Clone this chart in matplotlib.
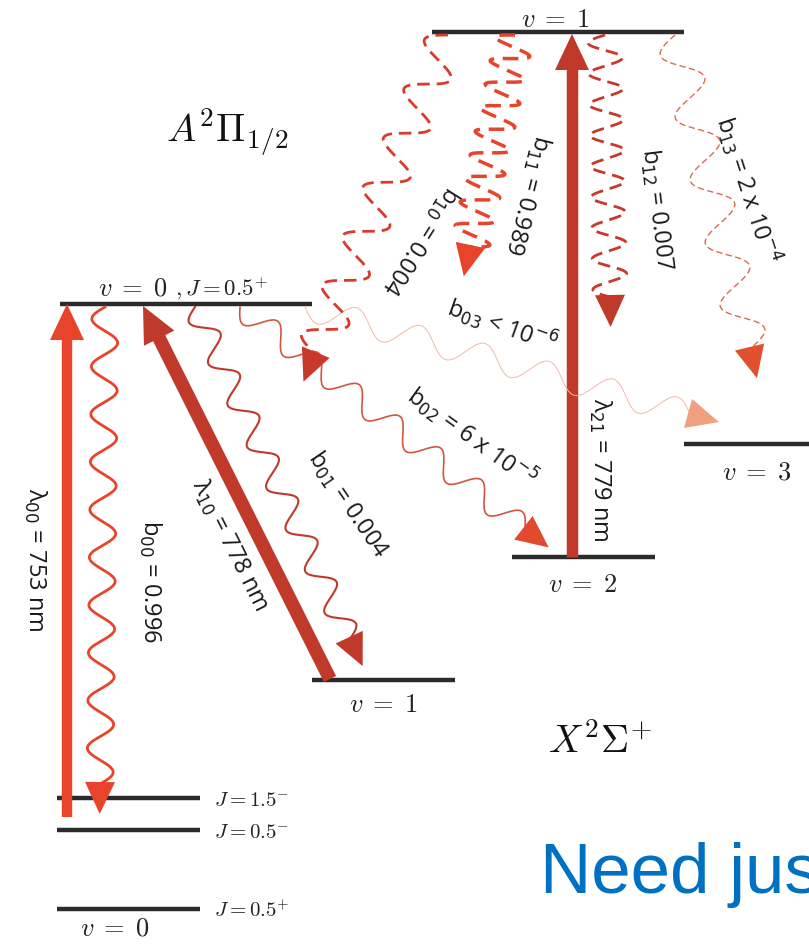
import numpy as np
import matplotlib
matplotlib.use("Agg")
import matplotlib.pyplot as plt
from matplotlib.patches import Polygon

# ---------------- data ----------------
# energy levels (pixel-like diagram coordinates)
level_x0 = [432, 60, 57, 57, 57, 312, 512, 684]
level_x1 = [684, 312, 200, 200, 200, 455, 655, 809]
level_y = [33, 305, 799, 831, 910, 681, 558, 445]

# level labels
level_label_text = [r"$v\;=\;1$", r"$v\;=\;0$", r"$,J=0.5^{+}$", r"$J=1.5^{-}$", r"$J=0.5^{-}$",
                    r"$J=0.5^{+}$", r"$v\;=\;0$", r"$v\;=\;1$", r"$v\;=\;2$", r"$v\;=\;3$"]
level_label_x = [555, 133, 175, 214, 214, 214, 115, 383, 583, 757]
level_label_y = [27, 296, 296, 806, 838, 917, 936, 712, 592, 480]
level_label_size = [19, 19, 16.5, 15, 15, 15, 19, 19, 19, 19]
level_label_ha = ["center", "center", "left", "left", "left", "left", "center",
                  "center", "center", "center"]

# pumping lasers (straight arrows): start -> tip
laser_names = ["λ00", "λ10", "λ21"]
laser_start = [(67, 818), (330, 680), (572, 558)]
laser_tip = [(67, 305), (143, 307), (572, 35)]
laser_width = [10, 13, 11]
laser_color = ["#E8442B", "#C0392B", "#C0392B"]
laser_label = [r"λ$_{00}$ = 753 nm", r"λ$_{10}$ = 778 nm", r"λ$_{21}$ = 779 nm"]
laser_label_xy = [(35, 560), (230, 545), (600, 470)]
laser_label_rot = [-90, -63.4, -90]

# spontaneous decays (wavy arrows)
decay_names = ["b00", "b01", "b02", "b03", "b10", "b11", "b12", "b13"]
decay_start = [(105, 308), (195, 308), (240, 308), (305, 308),
               (448, 36), (515, 36), (605, 36), (675, 36)]
decay_end = [(100, 785), (350, 640), (525, 530), (690, 415),
             (315, 355), (470, 248), (610, 298), (750, 350)]
decay_amp = [13, 12, 12, 13, 20, 19, 17, 19]
decay_cycles = [10, 8, 7, 6, 6.5, 9, 8.5, 5]
decay_lw = [2.0, 1.5, 1.2, 0.7, 2.0, 2.5, 2.0, 1.0]
decay_dashed = [False, False, False, False, True, True, True, True]
decay_color = ["#E8442B", "#C0392B", "#D4553F", "#F2B8A6",
               "#D93A2B", "#E8442B", "#C8392B", "#DD6A50"]
decay_head_color = ["#E8442B", "#C0392B", "#E04A2E", "#F0A07F",
                    "#C8392B", "#E8442B", "#C0392B", "#E0502F"]
decay_label = [r"b$_{00}$ = 0.996", r"b$_{01}$ = 0.004", r"b$_{02}$ = 6 x 10$^{-5}$",
               r"b$_{03}$ < 10$^{-6}$", r"b$_{10}$ = 0.004", r"b$_{11}$ = 0.989",
               r"b$_{12}$ = 0.007", r"b$_{13}$ = 2 x 10$^{-4}$"]
decay_label_xy = [(150, 582), (348, 505), (472, 437), (502, 325),
                  (420, 240), (527, 195), (657, 210), (748, 190)]
decay_label_rot = [-90, -55.7, -36, -19.6, -122.5, -104, -83, -72]

# state labels
state_text = [r"$A^2\Pi_{1/2}$", r"$X^2\Sigma^{+}$"]
state_xy = [(227, 132), (600, 742)]

# ---------------- drawing ----------------
fig = plt.figure(figsize=(8.09, 9.45), dpi=100)
ax = fig.add_axes([0, 0, 1, 1])
ax.set_xlim(0, 809)
ax.set_ylim(945, 0)
ax.axis("off")


def head(ax, tip, direction, length, width, color, z=4):
    d = np.asarray(direction, float)
    d /= np.hypot(*d)
    p = np.array([-d[1], d[0]])
    t = np.asarray(tip, float)
    b = t - length * d
    ax.add_patch(Polygon([t, b + p * width / 2, b - p * width / 2],
                         closed=True, color=color, lw=0, zorder=z))


# levels
for x0, x1, y in zip(level_x0, level_x1, level_y):
    ax.plot([x0, x1], [y, y], color="#2B2B2B", lw=3.2, solid_capstyle="butt", zorder=2)

for t, x, y, s, ha in zip(level_label_text, level_label_x, level_label_y,
                          level_label_size, level_label_ha):
    ax.text(x, y, t, fontsize=s, ha=ha, va="baseline", math_fontfamily="cm", color="#222222")

# lasers
for s, tp, w, c in zip(laser_start, laser_tip, laser_width, laser_color):
    s = np.asarray(s, float)
    tp = np.asarray(tp, float)
    d = tp - s
    d /= np.hypot(*d)
    hl = 36
    base = tp - hl * d
    ax.plot([s[0], base[0] + d[0] * 2], [s[1], base[1] + d[1] * 2], color=c, lw=w * 0.75,
            solid_capstyle="butt", zorder=3)
    head(ax, tp, d, hl, 34, c, z=3)

for t, xy, r in zip(laser_label, laser_label_xy, laser_label_rot):
    ax.text(xy[0], xy[1], t, fontsize=17, rotation=r, rotation_mode="anchor",
            ha="center", va="center", family="Open Sans", color="#1a1a1a")

# decays
for s, e, a, n, lw, dsh, c, hc in zip(decay_start, decay_end, decay_amp, decay_cycles,
                                        decay_lw, decay_dashed, decay_color, decay_head_color):
    s = np.asarray(s, float)
    e = np.asarray(e, float)
    v = e - s
    L = np.hypot(*v)
    d = v / L
    p = np.array([-d[1], d[0]])
    t = np.linspace(0, 1, 600)
    off = a * np.sin(2 * np.pi * n * t)
    pts = s[None, :] + t[:, None] * v[None, :] + off[:, None] * p[None, :]
    ls = (0, (4.5, 2.5)) if dsh else "-"
    ax.plot(pts[:, 0], pts[:, 1], color=c, lw=lw, ls=ls, zorder=4)
    head(ax, e + 30 * d, d, 32, 30, hc, z=5)

for t, xy, r in zip(decay_label, decay_label_xy, decay_label_rot):
    ax.text(xy[0], xy[1], t, fontsize=17, rotation=r, rotation_mode="anchor",
            ha="center", va="center", family="Open Sans", color="#1a1a1a")

for t, xy in zip(state_text, state_xy):
    ax.text(xy[0], xy[1], t, fontsize=28, ha="center", va="center",
            math_fontfamily="cm", color="#111111")

# the reference shows this text truncated at the right edge
ax.text(540, 893, "Need jus", fontsize=51, ha="left", va="baseline",
        family="Liberation Sans", color="#0070C0")

fig.savefig("out.png", dpi=100)
